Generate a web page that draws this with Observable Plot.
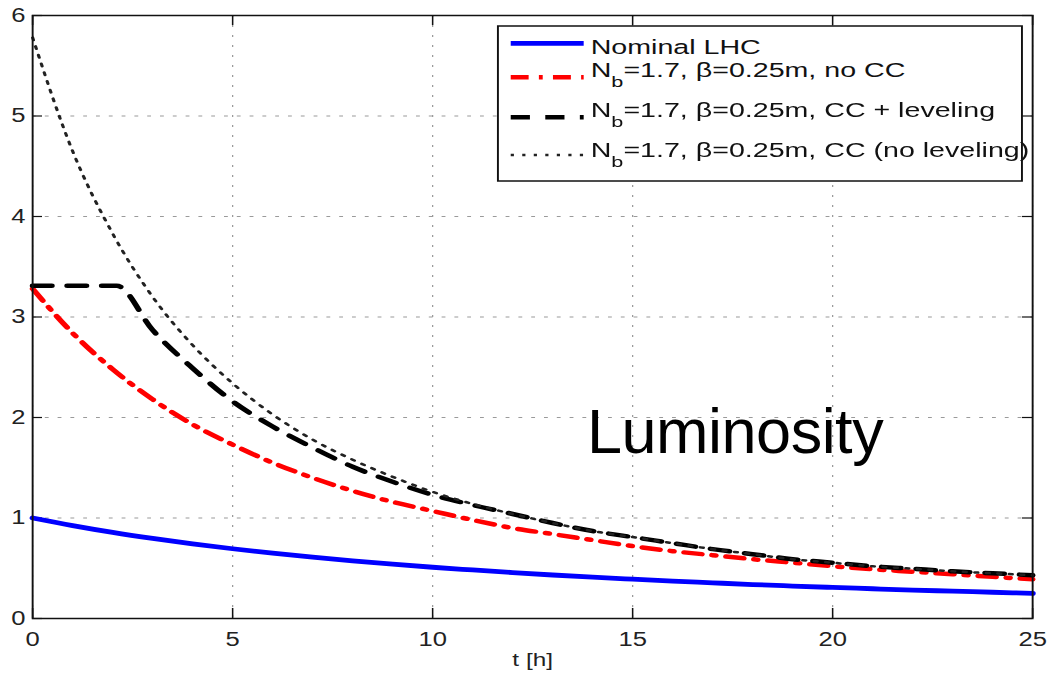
<!DOCTYPE html>
<html>
<head>
<meta charset="utf-8">
<script src="https://cdn.jsdelivr.net/npm/d3@7"></script>
<script src="https://cdn.jsdelivr.net/npm/@observablehq/plot@0.6"></script>
<style>
  html, body { margin: 0; padding: 0; background: #fff; overflow: hidden; }
  #stage { position: relative; width: 1049px; height: 678px; overflow: hidden; }
  #stretch { position: absolute; left: 0; top: 0; transform-origin: 0 0; }
  #annot { position: absolute; left: 0; top: 0; pointer-events: none; }
</style>
</head>
<body>
<div id="stage"><div id="stretch"></div></div>
<script>
// ---- data: peak luminosity (relative to nominal) versus time in fill ----
const hours = [0, 1, 2, 3, 4, 5, 6, 7, 8, 9, 10, 11, 12, 13, 14, 15, 16, 17, 18, 19, 20, 21, 22, 23, 24, 25];
const nominalLHC = [1.000, 0.925, 0.857, 0.797, 0.743, 0.694, 0.650, 0.610, 0.574, 0.541, 0.510, 0.483, 0.457,
                    0.433, 0.411, 0.391, 0.372, 0.355, 0.338, 0.323, 0.309, 0.296, 0.283, 0.272, 0.261, 0.250];
const noCC = [3.28, 2.84, 2.48, 2.18, 1.93, 1.73, 1.55, 1.40, 1.27, 1.16, 1.07, 0.98, 0.90,
              0.84, 0.78, 0.72, 0.67, 0.63, 0.59, 0.555, 0.52, 0.49, 0.465, 0.44, 0.415, 0.39];
const ccNoLeveling = [5.78, 4.65, 3.83, 3.20, 2.72, 2.34, 2.03, 1.78, 1.58, 1.41, 1.26, 1.14, 1.04,
                      0.95, 0.87, 0.81, 0.75, 0.69, 0.64, 0.59, 0.555, 0.52, 0.495, 0.47, 0.45, 0.43];
const levelHours = [0, 2.1, 3, 4, 5, 6, 7, 8, 9, 10, 11, 12, 13, 14, 15, 16, 17, 18, 19, 20, 21, 22, 23, 24, 25];
const ccLeveling = [3.31, 3.31, 2.87, 2.49, 2.16, 1.91, 1.70, 1.51, 1.36, 1.23, 1.13, 1.04, 0.95,
                    0.87, 0.81, 0.75, 0.69, 0.64, 0.59, 0.555, 0.52, 0.495, 0.47, 0.45, 0.43];

const xTicks = [0, 5, 10, 15, 20, 25];
const yTicks = [0, 1, 2, 3, 4, 5, 6];
const xLabel = "t [h]";
const annotation = "Luminosity";

// series in legend order (later ones drawn on top)
const series = [
  {name: "Nominal LHC", t: hours, v: nominalLHC, stroke: "#0000ff", width: 4.8, dash: null},
  {name: "N_b=1.7, β=0.25m, no CC", t: hours, v: noCC, stroke: "#ff0000", width: 4.5, dash: "14,8,3,8"},
  {name: "N_b=1.7, β=0.25m, CC + leveling", t: levelHours, v: ccLeveling, stroke: "#000000", width: 4.5, dash: "15,12"},
  {name: "N_b=1.7, β=0.25m, CC (no leveling)", t: hours, v: ccNoLeveling, stroke: "#222222", width: 2.5, dash: "2.5,6.5"}
];

// ---- layout: the figure is laid out narrow and stretched horizontally ----
const STRETCH = 1.28;
const W = 820, H = 678;
const FONT = "'Liberation Sans', Arial, Helvetica, sans-serif";

const lineMarks = series.map(s => Plot.line(
  s.t.map((t, i) => ({t, v: s.v[i]})),
  {x: "t", y: "v", stroke: s.stroke, strokeWidth: s.width,
   strokeDasharray: s.dash ?? undefined, curve: "monotone-x"}
));

const chart = Plot.plot({
  width: W,
  height: H,
  marginLeft: 25,
  marginRight: 13.75,
  marginTop: 15,
  marginBottom: 60,
  x: {domain: [0, 25]},
  y: {domain: [0, 6]},
  style: {fontFamily: FONT, background: "white", color: "#222", overflow: "visible"},
  marks: [
    Plot.gridX(xTicks, {stroke: "#9a9a9a", strokeOpacity: 1, strokeWidth: 1, strokeDasharray: "2,8"}),
    Plot.gridY(yTicks, {stroke: "#9a9a9a", strokeOpacity: 1, strokeWidth: 1, strokeDasharray: "3,7"}),
    // inward tick marks on all four sides
    Plot.ruleX(xTicks, {y1: 0, y2: 0.1, stroke: "#111", strokeWidth: 1.2}),
    Plot.ruleX(xTicks, {y1: 5.9, y2: 6, stroke: "#111", strokeWidth: 1.2}),
    Plot.ruleY(yTicks, {x1: 0, x2: 0.25, stroke: "#111", strokeWidth: 1.2}),
    Plot.ruleY(yTicks, {x1: 24.75, x2: 25, stroke: "#111", strokeWidth: 1.2}),
    Plot.axisX(xTicks, {tickSize: 0, tickPadding: 13, fontSize: 20, fill: "#222", label: null, tickFormat: d3.format("d")}),
    Plot.axisY(yTicks, {tickSize: 0, tickPadding: 5.5, fontSize: 20, fill: "#222", label: null, tickFormat: d3.format("d")}),
    Plot.text([xLabel], {frameAnchor: "bottom", dy: 41, lineAnchor: "middle", fontSize: 19, fill: "#222"}),
    ...lineMarks,
    Plot.frame({stroke: "#111", strokeWidth: 1.5})
  ]
});

document.getElementById("stretch").style.transform = `scaleX(${STRETCH})`;
document.getElementById("stretch").appendChild(chart);

// ---- legend box (upper right, inside the axes) ----
const svg = d3.select(chart);
const leg = svg.append("g")
  .attr("font-family", FONT).attr("fill", "#111").attr("text-anchor", "start");
const box = {x: 389, y: 26, w: 409.4, h: 155};
leg.append("rect").attr("x", box.x).attr("y", box.y).attr("width", box.w).attr("height", box.h)
  .attr("fill", "white").attr("stroke", "#111").attr("stroke-width", 1.5);
const rowBaseline = [54, 77.3, 117.3, 157.3];
const rowSample = [43.3, 77.3, 117.3, 155];
const legendTextWiden = 1.09;
series.forEach((s, i) => {
  leg.append("line")
    .attr("x1", 399).attr("x2", 456).attr("y1", rowSample[i]).attr("y2", rowSample[i])
    .attr("stroke", s.stroke).attr("stroke-width", s.width)
    .attr("stroke-dasharray", s.dash);
  const txt = leg.append("text")
    .attr("transform", `translate(461.5,${rowBaseline[i]}) scale(${legendTextWiden},1)`)
    .attr("font-size", 20.5).attr("text-anchor", "start");
  const m = s.name.match(/^(.*?)_(\w)(.*)$/);
  if (m) {
    txt.append("tspan").text(m[1]);
    txt.append("tspan").attr("dy", 10).attr("font-size", 15.5).text(m[2]);
    txt.append("tspan").attr("dy", -10).text(m[3]);
  } else {
    txt.text(s.name);
  }
});

// ---- large annotation, drawn unstretched on top ----
const annot = d3.select("#stage").append("svg")
  .attr("id", "annot").attr("width", 1049).attr("height", 678);
annot.append("text")
  .attr("x", 587).attr("y", 453)
  .attr("font-family", FONT).attr("font-size", 63).attr("letter-spacing", "-0.5px")
  .attr("fill", "#000")
  .text(annotation);
</script>
</body>
</html>
